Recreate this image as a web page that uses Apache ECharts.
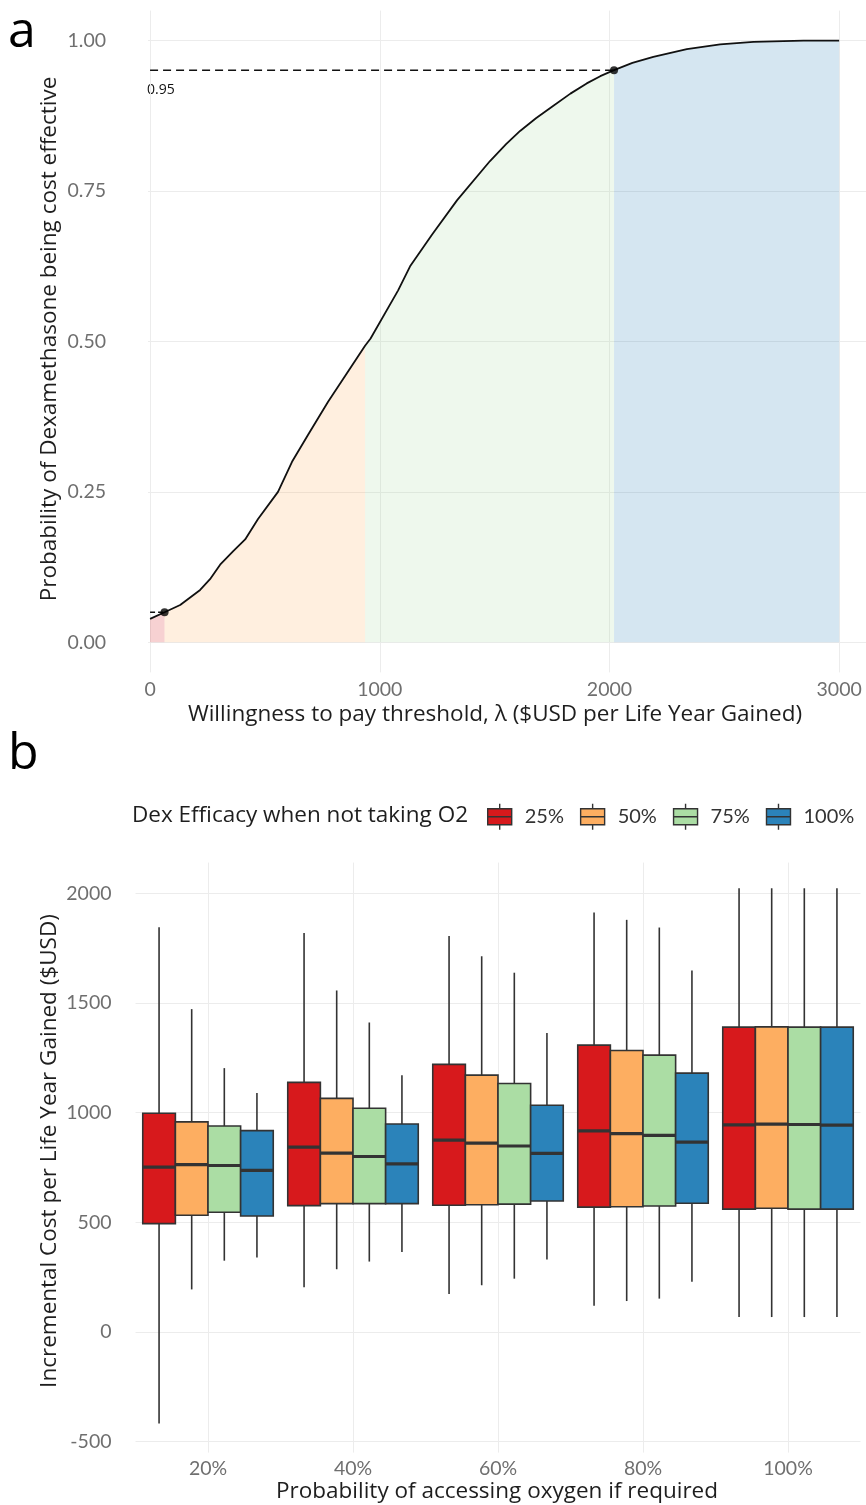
<!DOCTYPE html>
<html><head><meta charset="utf-8">
<script src="https://cdn.jsdelivr.net/npm/echarts@6/dist/echarts.min.js"></script>
<style>html,body{margin:0;padding:0;background:#fff}#c{width:866px;height:1505px}</style>
</head><body><div id="c"></div>
<script>
// ---------- Panel a data ----------
const wtp  = [0,63,131,218,261,305,361,414,470,557,618,688,775,862,936,960,1080,1132,1228,1337,1480,1550,1611,1680,1756,1830,1901,1960,2020,2100,2191,2337,2482,2627,2845,3000];
const prob = [0.039,0.05,0.062,0.087,0.105,0.129,0.151,0.171,0.205,0.25,0.30,0.345,0.40,0.45,0.493,0.505,0.585,0.625,0.678,0.735,0.80,0.828,0.85,0.871,0.892,0.912,0.929,0.941,0.951,0.963,0.973,0.986,0.994,0.998,1.0,1.0];
const regionBreaks = [0, 63, 936, 2020, 3000];
const regionColors = ['rgba(215,25,28,0.2)','rgba(253,174,97,0.2)','rgba(171,221,164,0.2)','rgba(43,131,186,0.2)'];
const markPointsX = [63, 2020];
const markPointsY = [0.05, 0.951];
const cutLabel = '0.95';
const xTicksA = [0, 1000, 2000, 3000];
const yTicksA = [0, 0.25, 0.5, 0.75, 1.0];

// ---------- Panel b data ----------
const oxygenCats = ['20%','40%','60%','80%','100%'];
const efficacyLevels = ['25%','50%','75%','100%'];
const boxColors = ['#d7191c','#fdae61','#abdda4','#2b83ba'];
// each: [low, q1, median, q3, high] per oxygen category
const eff25  = [[-417,494,752,997,1845],[204,576,843,1138,1819],[173,578,875,1220,1805],[120,569,917,1308,1913],[68,560,944,1390,2023]];
const eff50  = [[194,532,763,958,1472],[286,585,815,1065,1557],[213,580,861,1171,1713],[141,571,904,1283,1879],[68,564,948,1391,2023]];
const eff75  = [[325,546,759,939,1203],[321,585,800,1020,1411],[243,583,848,1133,1638],[152,574,896,1262,1844],[68,560,946,1390,2023]];
const eff100 = [[339,529,737,918,1089],[365,585,766,948,1171],[330,597,814,1034,1363],[229,587,866,1180,1648],[68,560,943,1390,2023]];
const yTicksB = [-500, 0, 500, 1000, 1500, 2000];

const boxSets = [eff25, eff50, eff75, eff100];
const tickColor = '#6f6f6f';
const titleColor = '#1e1e1e';
const gridColor = '#ececec';
const titleFont = '"Open Sans", sans-serif';
const tickFont = 'Lato, sans-serif';
const tickSize = 19.5;
const titleSize = 22.5;

const curve = wtp.map((x, i) => [x, prob[i]]);

const series = [];
for (let r = 0; r < 4; r++) {
  const lo = regionBreaks[r], hi = regionBreaks[r+1];
  series.push({
    type: 'line', xAxisIndex: 0, yAxisIndex: 0, symbol: 'none', silent: true,
    data: curve.filter(p => p[0] >= lo && p[0] <= hi),
    lineStyle: { width: 0, opacity: 0 },
    areaStyle: { color: regionColors[r], opacity: 1 },
    z: 1
  });
}
series.push({
  type: 'line', xAxisIndex: 0, yAxisIndex: 0, symbol: 'none', data: curve,
  lineStyle: { color: '#111', width: 1.8 }, z: 3
});
series.push({
  type: 'line', xAxisIndex: 0, yAxisIndex: 0, symbol: 'none',
  data: [[0, markPointsY[1]], [markPointsX[1], markPointsY[1]]],
  lineStyle: { color: '#111', width: 1.5, type: [8, 5] }, z: 3
});
series.push({
  type: 'line', xAxisIndex: 0, yAxisIndex: 0, symbol: 'none',
  data: [[0, markPointsY[0]], [markPointsX[0], markPointsY[0]]],
  lineStyle: { color: '#111', width: 1.5, type: [5, 3] }, z: 3
});
series.push({
  type: 'scatter', xAxisIndex: 0, yAxisIndex: 0, symbolSize: 8,
  data: markPointsX.map((x, i) => [x, markPointsY[i]]),
  itemStyle: { color: '#000' }, z: 4
});

boxSets.forEach((set, k) => {
  const col = boxColors[k];
  series.push({
    type: 'custom', name: efficacyLevels[k], xAxisIndex: 1, yAxisIndex: 1,
    itemStyle: { color: col },
    encode: { x: 0, y: [1,2,3,4,5] },
    data: set.map((b, i) => [i, b[0], b[1], b[2], b[3], b[4]]),
    renderItem: function (params, api) {
      const xi = api.value(0);
      const band = api.size([1, 0])[0];
      const w = band * 0.9 / 4;
      const cx = api.coord([xi, 0])[0] + (k - 1.5) * w;
      const yl = api.coord([xi, api.value(1)])[1];
      const y1 = api.coord([xi, api.value(2)])[1];
      const ym = api.coord([xi, api.value(3)])[1];
      const y3 = api.coord([xi, api.value(4)])[1];
      const yh = api.coord([xi, api.value(5)])[1];
      const ls = { stroke: '#333', lineWidth: 1.6 };
      return { type: 'group', children: [
        { type: 'line', shape: { x1: cx, y1: yh, x2: cx, y2: y3 }, style: ls },
        { type: 'line', shape: { x1: cx, y1: y1, x2: cx, y2: yl }, style: ls },
        { type: 'rect', shape: { x: cx - w/2, y: y3, width: w, height: y1 - y3 }, style: { fill: col, stroke: '#333', lineWidth: 1.6 } },
        { type: 'line', shape: { x1: cx - w/2, y1: ym, x2: cx + w/2, y2: ym }, style: { stroke: '#333', lineWidth: 3.2 } }
      ]};
    }
  });
});

const iconPath = 'path://M13,0L13,5M1,5L25,5L25,21L1,21ZM1,13L25,13M13,21L13,26';

const option = {
  animation: false,
  backgroundColor: '#fff',
  grid: [
    { left: 148, top: 10.6, width: 718, height: 661.8 },
    { left: 135.5, top: 862.6, width: 725, height: 590 }
  ],
  xAxis: [
    { type: 'value', gridIndex: 0, min: -9, max: 3117,
      axisLine: { show: false }, axisTick: { show: false, customValues: xTicksA },
      axisLabel: { customValues: xTicksA, formatter: v => String(v), color: tickColor, fontSize: tickSize, fontFamily: tickFont, margin: 7 },
      splitLine: { show: true, lineStyle: { color: gridColor, width: 1 } } },
    { type: 'value', gridIndex: 1, min: -0.5, max: 4.5,
      axisLine: { show: false }, axisTick: { show: false, customValues: [0,1,2,3,4] },
      axisLabel: { customValues: [0,1,2,3,4], formatter: v => oxygenCats[Math.round(v)], color: tickColor, fontSize: tickSize, fontFamily: tickFont, margin: 6 },
      splitLine: { show: true, lineStyle: { color: gridColor, width: 1 } } }
  ],
  yAxis: [
    { type: 'value', gridIndex: 0, min: -0.05, max: 1.05,
      axisLine: { show: false }, axisTick: { show: false, customValues: yTicksA },
      axisLabel: { customValues: yTicksA, formatter: v => v.toFixed(2), color: tickColor, fontSize: tickSize, fontFamily: tickFont, margin: 42 },
      splitLine: { show: true, lineStyle: { color: gridColor, width: 1 } } },
    { type: 'value', gridIndex: 1, min: -550, max: 2140,
      axisLine: { show: false }, axisTick: { show: false, customValues: yTicksB },
      axisLabel: { customValues: yTicksB, formatter: v => String(v), color: tickColor, fontSize: tickSize, fontFamily: tickFont, margin: 24 },
      splitLine: { show: true, lineStyle: { color: gridColor, width: 1 } } }
  ],
  legend: {
    left: 487, top: 803, orient: 'horizontal', padding: 0,
    itemWidth: 26, itemHeight: 26, itemGap: 16,
    selectedMode: false,
    data: efficacyLevels.map(n => ({ name: n, icon: iconPath })),
    itemStyle: { borderColor: '#333', borderWidth: 1.4 },
    textStyle: { fontFamily: tickFont, fontSize: 20, color: '#333', padding: [0, 0, 0, 7] }
  },
  graphic: [
    { type: 'text', x: 8, y: 33, style: { text: 'a', fontSize: 50, fontFamily: titleFont, fill: '#000', verticalAlign: 'middle' } },
    { type: 'text', x: 8, y: 755, style: { text: 'b', fontSize: 50, fontFamily: titleFont, fill: '#000', verticalAlign: 'middle' } },
    { type: 'text', x: 147, y: 90, style: { text: cutLabel, fontSize: 14, fontFamily: titleFont, fill: '#111', verticalAlign: 'middle' } },
    { type: 'text', x: 50, y: 339, rotation: Math.PI / 2, style: { text: 'Probability of Dexamethasone being cost effective', fontSize: titleSize, fontFamily: titleFont, fill: titleColor, align: 'center', verticalAlign: 'middle' } },
    { type: 'text', x: 495, y: 715, style: { text: 'Willingness to pay threshold, λ ($USD per Life Year Gained)', fontSize: titleSize, fontFamily: titleFont, fill: titleColor, align: 'center', verticalAlign: 'middle' } },
    { type: 'text', x: 132, y: 816, style: { text: 'Dex Efficacy when not taking O2', fontSize: titleSize, fontFamily: titleFont, fill: titleColor, align: 'left', verticalAlign: 'middle' } },
    { type: 'text', x: 50, y: 1151, rotation: Math.PI / 2, style: { text: 'Incremental Cost per Life Year Gained ($USD)', fontSize: titleSize, fontFamily: titleFont, fill: titleColor, align: 'center', verticalAlign: 'middle' } },
    { type: 'text', x: 497, y: 1492, style: { text: 'Probability of accessing oxygen if required', fontSize: titleSize, fontFamily: titleFont, fill: titleColor, align: 'center', verticalAlign: 'middle' } }
  ],
  series: series
};
const chart = echarts.init(document.getElementById('c'), null, { renderer: 'canvas' });
chart.setOption(option);
</script>
</body></html>
